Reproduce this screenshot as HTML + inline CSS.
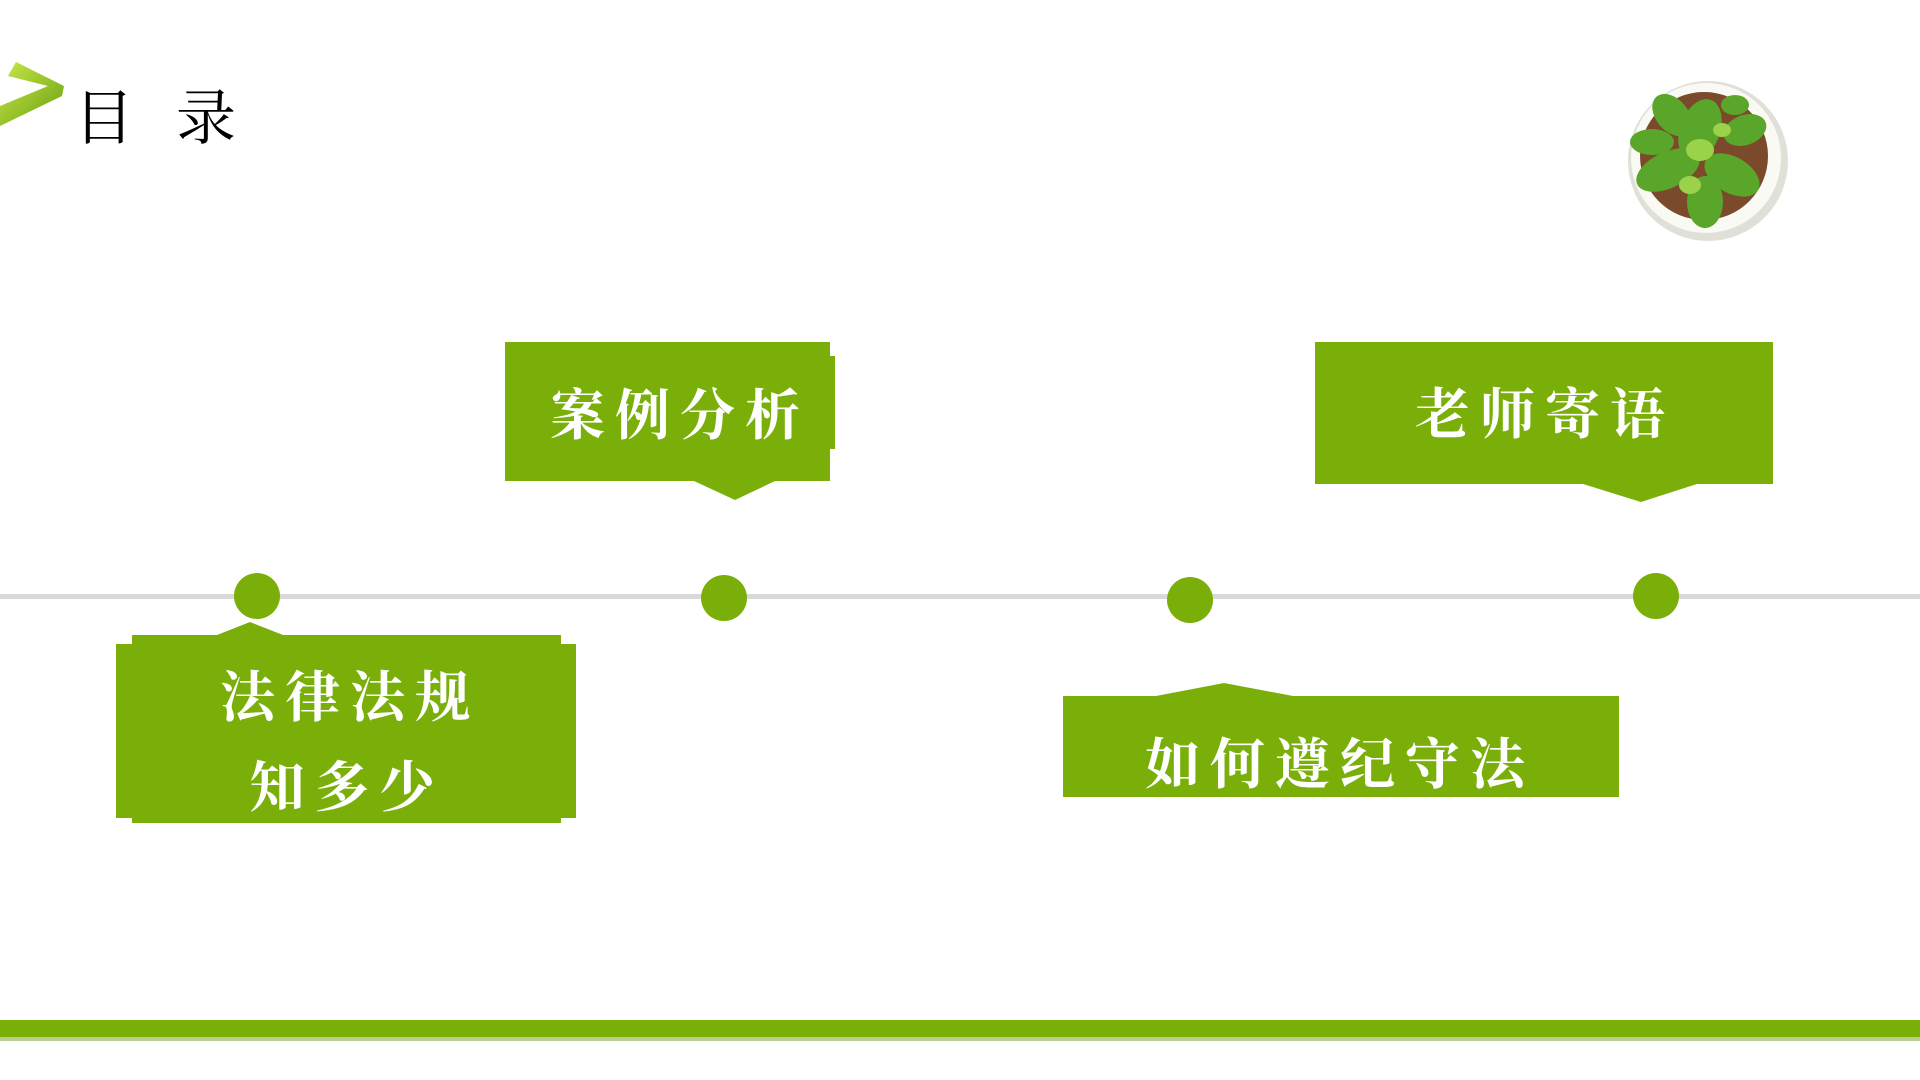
<!DOCTYPE html>
<html><head><meta charset="utf-8"><style>
body{margin:0;width:1920px;height:1080px;background:#fff;position:relative;overflow:hidden;font-family:"Liberation Sans","Noto Sans CJK SC",sans-serif}
.t{position:absolute;color:#fff;font-family:"Liberation Serif","Noto Serif CJK SC",serif;font-weight:bold;font-size:55px;letter-spacing:10px;white-space:nowrap;transform:translate(-50%,-50%)}
</style></head><body>
<svg width="1920" height="1080" style="position:absolute;left:0;top:0">
<defs><linearGradient id="g" x1="0" y1="0" x2="1" y2="1"><stop offset="0" stop-color="#c8e84a"/><stop offset="1" stop-color="#6aa010"/></linearGradient></defs>
<polygon points="0,106 48,86 8,76 16,62 64,86 62,96 0,126" fill="url(#g)"/>
<rect x="0" y="594" width="1920" height="5" fill="#d9d9d9"/>
<circle cx="257" cy="596" r="23" fill="#7aaf0a"/>
<circle cx="724" cy="598" r="23" fill="#7aaf0a"/>
<circle cx="1190" cy="600" r="23" fill="#7aaf0a"/>
<circle cx="1656" cy="596" r="23" fill="#7aaf0a"/>
<polygon points="132,635 217,635 250,622 283,635 561,635 561,644 576,644 576,818 561,818 561,823 132,823 132,818 116,818 116,644 132,644" fill="#7aaf0a"/>
<polygon points="505,342 830,342 830,356 835,356 835,449 830,449 830,481 775,481 735,500 694,481 505,481" fill="#7aaf0a"/>
<polygon points="1315,342 1773,342 1773,484 1697,484 1641,502 1583,484 1315,484" fill="#7aaf0a"/>
<polygon points="1063,696 1156,696 1224,683 1293,696 1619,696 1619,797 1063,797" fill="#7aaf0a"/>
<rect x="0" y="1020" width="1920" height="17" fill="#7aaf0a"/>
<rect x="0" y="1037" width="1920" height="4" fill="#b8cf90"/>
<circle cx="1708" cy="161" r="80" fill="#e0e0d8"/>
<circle cx="1706" cy="158" r="75" fill="#fafaf5"/>
<circle cx="1704" cy="156" r="64" fill="#7a4a2a"/>
<g fill="#5aa62a">
<ellipse cx="1700" cy="130" rx="20" ry="32" transform="rotate(20 1700 130)"/>
<ellipse cx="1668" cy="170" rx="34" ry="18" transform="rotate(-25 1668 170)"/>
<ellipse cx="1732" cy="175" rx="30" ry="18" transform="rotate(30 1732 175)"/>
<ellipse cx="1705" cy="202" rx="18" ry="26"/>
<ellipse cx="1672" cy="115" rx="16" ry="24" transform="rotate(-40 1672 115)"/>
<ellipse cx="1745" cy="130" rx="22" ry="15" transform="rotate(-20 1745 130)"/>
<ellipse cx="1652" cy="142" rx="22" ry="13"/>
<ellipse cx="1735" cy="105" rx="14" ry="10"/>
</g>
<g fill="#9ad24a"><ellipse cx="1700" cy="150" rx="14" ry="11"/><ellipse cx="1690" cy="185" rx="11" ry="9"/><ellipse cx="1722" cy="130" rx="9" ry="7"/></g>
</svg>
<div style="position:absolute;left:74px;top:71px;font-family:'Liberation Serif','Noto Serif CJK SC',serif;font-size:60px;color:#000;letter-spacing:4px;white-space:nowrap">目&nbsp;&nbsp;录</div>
<div class="t" style="left:350px;top:693px">法律法规</div>
<div class="t" style="left:347px;top:783px">知多少</div>
<div class="t" style="left:680px;top:411px">案例分析</div>
<div class="t" style="left:1545px;top:410px">老师寄语</div>
<div class="t" style="left:1340px;top:760px">如何遵纪守法</div>
</body></html>
